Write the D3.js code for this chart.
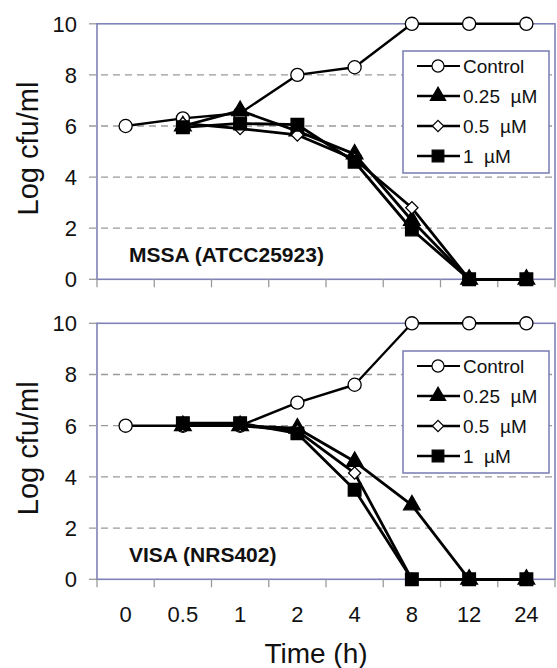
<!DOCTYPE html>
<html>
<head>
<meta charset="utf-8">
<script src="https://cdn.jsdelivr.net/npm/d3@7"></script>
<style>
  body { margin: 0; background: #fff; }
  text { font-family: "Liberation Sans", Arial, sans-serif; fill: #111; }
</style>
</head>
<body>
<div id="chart"></div>
<script>
// Categories (time points, h)
const times = ["0", "0.5", "1", "2", "4", "8", "12", "24"];
const yTicks = [0, 2, 4, 6, 8, 10];
const seriesNames = ["Control", "0.25  \u00b5M", "0.5  \u00b5M", "1  \u00b5M"];

// MSSA (ATCC25923)
const mssaControl = [6.0, 6.3, 6.5, 8.0, 8.3, 10, 10, 10];
const mssa025 = [null, 6.0, 6.6, 5.8, 4.9, 2.3, 0, 0];
const mssa05 = [null, 6.1, 5.9, 5.65, 4.7, 2.8, 0, 0];
const mssa1 = [null, 5.95, 6.1, 6.05, 4.6, 1.95, 0, 0];

// VISA (NRS402)
const visaControl = [6.0, 6.0, 6.0, 6.9, 7.6, 10, 10, 10];
const visa025 = [null, 6.0, 6.0, 5.9, 4.6, 2.9, 0, 0];
const visa05 = [null, 6.0, 6.0, 5.8, 4.15, 0, 0, 0];
const visa1 = [null, 6.1, 6.1, 5.7, 3.5, 0, 0, 0];

const width = 557, height = 668;
const frameColor = "#7f82b6";

const svg = d3.select("#chart").append("svg")
    .attr("width", width)
    .attr("height", height);

// shared x scale
const x = d3.scaleBand().domain(times).range([97, 555]);

// marker styles per series
const markers = [
  { type: d3.symbolCircle, size: 135, fill: "#fff", rotate: 0 },
  { type: d3.symbolTriangle, size: 120, fill: "#000", rotate: 0 },
  { type: d3.symbolSquare, size: 75, fill: "#fff", rotate: 45 },
  { type: d3.symbolSquare, size: 160, fill: "#000", rotate: 0 }
];

const panels = [
  { label: "MSSA (ATCC25923)", top: 23.8, bottom: 279.3, series: [mssaControl, mssa025, mssa05, mssa1], legendTop: 51 },
  { label: "VISA (NRS402)", top: 323.3, bottom: 579.3, series: [visaControl, visa025, visa05, visa1], legendTop: 351 }
];

panels.forEach(p => {
  const y = d3.scaleLinear().domain([0, 10]).range([p.bottom, p.top]);
  const g = svg.append("g");

  // dashed gridlines
  g.selectAll(".grid")
    .data(yTicks.filter(d => d > 0 && d < 10))
    .enter().append("line")
    .attr("x1", 89).attr("x2", 555)
    .attr("y1", d => y(d)).attr("y2", d => y(d))
    .attr("stroke", "#9a9a9a")
    .attr("stroke-width", 1.3)
    .attr("stroke-dasharray", "7,5");

  // y tick marks for 0 and 10
  g.selectAll(".ytick")
    .data([0, 10])
    .enter().append("line")
    .attr("x1", 89).attr("x2", 97)
    .attr("y1", d => y(d)).attr("y2", d => y(d))
    .attr("stroke", "#9a9a9a")
    .attr("stroke-width", 1.3);

  // frame
  g.append("rect")
    .attr("x", 97).attr("y", p.top)
    .attr("width", 555 - 97).attr("height", p.bottom - p.top)
    .attr("fill", "none")
    .attr("stroke", frameColor)
    .attr("stroke-width", 1.6);

  // x tick marks below the axis
  const xTickPos = times.map(t => x(t)).concat([555]);
  g.selectAll(".xtick")
    .data(xTickPos)
    .enter().append("line")
    .attr("x1", d => d).attr("x2", d => d)
    .attr("y1", p.bottom).attr("y2", p.bottom + 8)
    .attr("stroke", "#9a9a9a")
    .attr("stroke-width", 1.3);

  // y tick labels
  g.selectAll(".ylab")
    .data(yTicks)
    .enter().append("text")
    .attr("x", 77)
    .attr("y", d => y(d))
    .attr("dy", "0.36em")
    .attr("text-anchor", "end")
    .style("font-size", "22px")
    .text(d => d);

  // y axis title
  g.append("text")
    .attr("transform", `translate(38,${(p.top + p.bottom) / 2 - 3}) rotate(-90)`)
    .attr("text-anchor", "middle")
    .style("font-size", "29px")
    .text("Log cfu/ml");

  // panel label
  g.append("text")
    .attr("x", 129)
    .attr("y", p.bottom - 17)
    .style("font-size", "21px")
    .style("font-weight", "bold")
    .text(p.label);

  // series
  const line = d3.line()
    .defined(d => d != null)
    .x((d, i) => x(times[i]) + x.bandwidth() / 2)
    .y(d => y(d));

  p.series.forEach((vals, si) => {
    g.append("path")
      .datum(vals)
      .attr("d", line)
      .attr("fill", "none")
      .attr("stroke", "#000")
      .attr("stroke-width", si === 0 ? 2.4 : 2.8)
      .attr("stroke-linejoin", "round");

    const m = markers[si];
    g.selectAll(".mk" + si)
      .data(vals.map((v, i) => ({ v, t: times[i] })).filter(d => d.v != null))
      .enter().append("path")
      .attr("d", d3.symbol().type(m.type).size(m.size))
      .attr("transform", d => `translate(${x(d.t) + x.bandwidth() / 2},${y(d.v)}) rotate(${m.rotate})`)
      .attr("fill", m.fill)
      .attr("stroke", "#000")
      .attr("stroke-width", 1.3);
  });

  // legend
  const lg = g.append("g").attr("transform", `translate(403,${p.legendTop})`);
  lg.append("rect")
    .attr("width", 146).attr("height", 122)
    .attr("fill", "#fff")
    .attr("stroke", frameColor)
    .attr("stroke-width", 1.6);
  seriesNames.forEach((name, i) => {
    const ly = 15 + i * 30;
    lg.append("line")
      .attr("x1", 14).attr("x2", 57)
      .attr("y1", ly).attr("y2", ly)
      .attr("stroke", "#000")
      .attr("stroke-width", i === 0 ? 2.2 : 2.6);
    const m = markers[i];
    lg.append("path")
      .attr("d", d3.symbol().type(m.type).size(m.size * 0.85))
      .attr("transform", `translate(35,${ly}) rotate(${m.rotate})`)
      .attr("fill", m.fill)
      .attr("stroke", "#000")
      .attr("stroke-width", 1.2);
    lg.append("text")
      .attr("x", 60)
      .attr("y", ly)
      .attr("dy", "0.36em")
      .style("font-size", "19px")
      .style("white-space", "pre")
      .text(name);
  });
});

// x tick labels
svg.selectAll(".xlab")
  .data(times)
  .enter().append("text")
  .attr("x", d => x(d) + x.bandwidth() / 2)
  .attr("y", 622)
  .attr("text-anchor", "middle")
  .style("font-size", "22px")
  .text(d => d);

// x axis title
svg.append("text")
  .attr("x", 316)
  .attr("y", 663)
  .attr("text-anchor", "middle")
  .style("font-size", "28px")
  .text("Time (h)");
</script>
</body>
</html>
